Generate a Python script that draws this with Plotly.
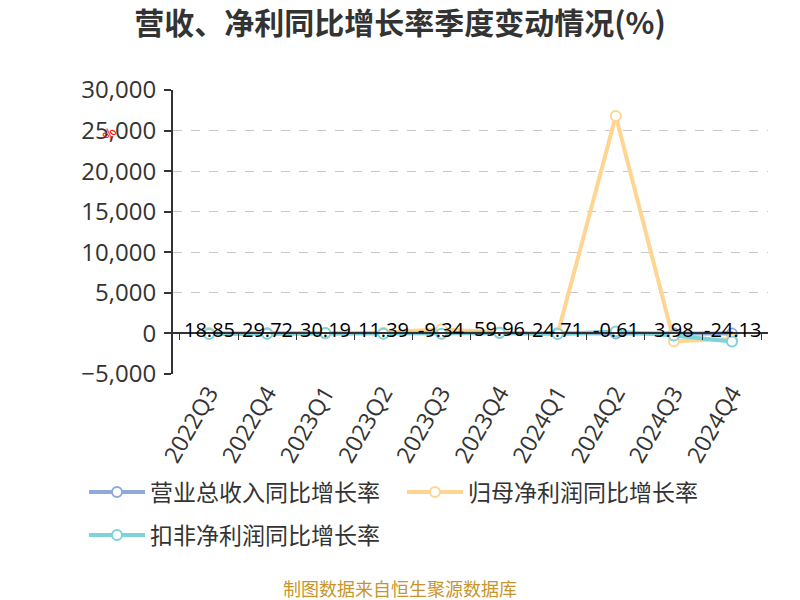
import plotly.graph_objects as go

quarters = ["2022Q3", "2022Q4", "2023Q1", "2023Q2", "2023Q3", "2023Q4",
            "2024Q1", "2024Q2", "2024Q3", "2024Q4"]
revenue_growth = [18.85, 29.72, 30.19, 11.39, -9.34, 59.96, 24.71, -0.61, 3.98, -24.13]
net_profit_growth = [50, -30, 20, 100, 500, 100, -50, 26800, -950, -700]
deducted_profit_growth = [-60, -50, 40, -40, -40, 80, -80, 250, -250, -1000]
series_names = ["营业总收入同比增长率", "归母净利润同比增长率", "扣非净利润同比增长率"]
colors = ["#8eaadc", "#ffd592", "#7dd3d9"]
legend_ids = ["legend", "legend", "legend2"]
y_ticks = [-5000, 0, 5000, 10000, 15000, 20000, 25000, 30000]

FONT = "Open Sans, Noto Sans CJK SC, sans-serif"
CJK = "Noto Sans CJK SC, sans-serif"

PL, PR, PT, PB = 173, 768, 90, 374
PW, PH = PR - PL, PB - PT

def px_to_paper(xp, yp):
    return (xp - PL) / PW, (PB - yp) / PH

fig = go.Figure()
for name, vals, col, lg in zip(series_names,
                               [revenue_growth, net_profit_growth, deducted_profit_growth],
                               colors, legend_ids):
    fig.add_trace(go.Scatter(
        x=quarters, y=vals, name=name, mode="lines+markers",
        line=dict(color=col, width=4),
        marker=dict(symbol="circle", size=10, color="white",
                    line=dict(color=col, width=2)),
        cliponaxis=False, legend=lg,
    ))

# dummy trace for the zero-line axis with ticks
fig.add_trace(go.Scatter(x=quarters, y=[None] * len(quarters), xaxis="x2",
                         showlegend=False, hoverinfo="skip", mode="lines"))

annotations = []
for q, v in zip(quarters, revenue_growth):
    annotations.append(dict(x=q, y=v, xref="x", yref="y", text=f"{v:.2f}",
                            showarrow=False, yanchor="middle", yshift=4,
                            font=dict(family=FONT, size=20, color="#000")))
ax, ay = px_to_paper(95, 120)
annotations.append(dict(x=ax, y=ay, xref="paper", yref="paper",
                        text="%", showarrow=False, textangle=-55,
                        font=dict(family=FONT, size=15, color="red")))
sx, sy = px_to_paper(400, 588)
annotations.append(dict(x=sx, y=sy, xref="paper", yref="paper", text="制图数据来自恒生聚源数据库",
                        showarrow=False, xanchor="center", yanchor="middle",
                        font=dict(family=CJK, size=18, color="#c8952d")))

lx, ly1 = px_to_paper(84, 492)
_, ly2 = px_to_paper(84, 535)
legend_common = dict(orientation="h", xref="paper", xanchor="left", yref="paper",
                     yanchor="middle", entrywidth=247,
                     font=dict(family=CJK, size=23, color="#333"),
                     itemwidth=56, tracegroupgap=0, bgcolor="rgba(0,0,0,0)")

fig.update_layout(
    width=800, height=600,
    paper_bgcolor="white", plot_bgcolor="white",
    margin=dict(l=PL, r=800 - PR, t=PT, b=600 - PB, autoexpand=False),
    title=dict(text="<b>营收、净利同比增长率季度变动情况(%)</b>", x=0.5, xanchor="center",
               y=1 - 23 / 600, yanchor="middle",
               font=dict(family=CJK, size=30, color="#333")),
    xaxis=dict(type="category", showline=False, ticks="", showgrid=False,
               tickangle=-60, tickfont=dict(family=FONT, size=23, color="#333"),
               zeroline=False, automargin=False),
    xaxis2=dict(overlaying="x", matches="x", anchor="free", position=5000 / 35000,
                showline=True, linecolor="#333", linewidth=2, ticks="outside",
                tickson="boundaries", ticklen=6, tickcolor="#333", tickwidth=1,
                showticklabels=False, showgrid=False, side="bottom"),
    yaxis=dict(range=[-5000, 30000], tickvals=y_ticks, tickformat=",d",
               showline=True, linecolor="#333", linewidth=2, ticks="outside",
               ticklen=7, tickcolor="#333", tickwidth=2, ticklabelstandoff=3,
               showgrid=True, gridcolor="#c8c8c8", griddash="dash", gridwidth=1,
               zeroline=False, automargin=False,
               tickfont=dict(family=FONT, size=24, color="#333")),
    legend=dict(x=lx, y=ly1, **legend_common),
    legend2=dict(x=lx, y=ly2, **legend_common),
    annotations=annotations,
    showlegend=True,
)

fig.write_html("out.html", post_script="document.body.style.margin='0';",
               config={"displayModeBar": False})
